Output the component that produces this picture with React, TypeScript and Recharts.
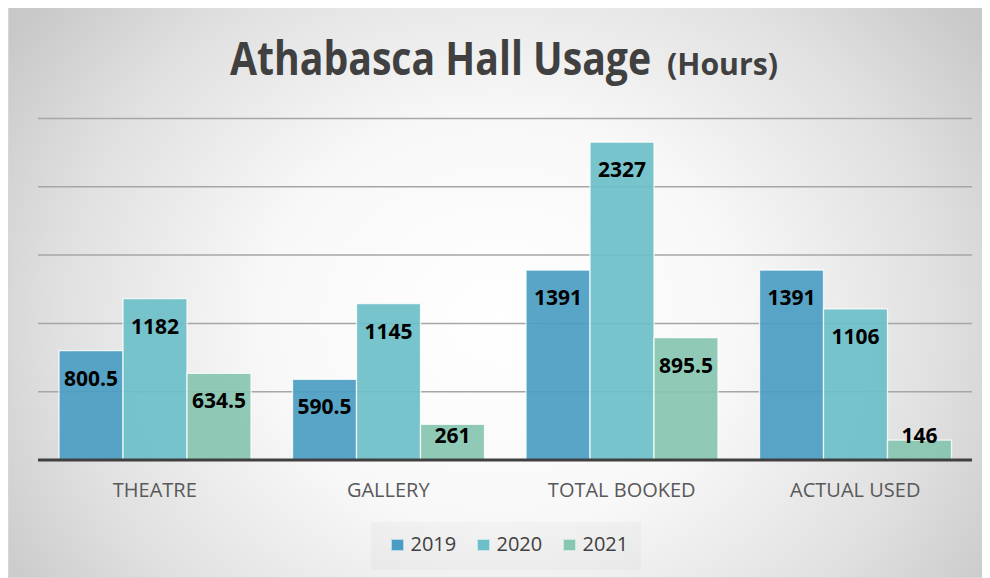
import React, { useLayoutEffect, useRef, useState } from 'react';
import { BarChart, Bar, XAxis, YAxis, CartesianGrid, LabelList } from 'recharts';

const categories = ['THEATRE', 'GALLERY', 'TOTAL BOOKED', 'ACTUAL USED'];
const values2019 = [800.5, 590.5, 1391, 1391];
const values2020 = [1182, 1145, 2327, 1106];
const values2021 = [634.5, 261, 895.5, 146];
const seriesNames = ['2019', '2020', '2021'];
const seriesColors = ['#4A9DC2', '#6CBFC8', '#87C6B1'];
const yTicks = [0, 500, 1000, 1500, 2000, 2500];
const titleMain = 'Athabasca Hall Usage';
const titleUnit = '(Hours)';

const data = categories.map((c, i) => ({
  name: c,
  s2019: values2019[i],
  s2020: values2020[i],
  s2021: values2021[i],
}));
const keys = ['s2019', 's2020', 's2021'];

const FONT = '"Open Sans", "DejaVu Sans", sans-serif';

const ValueLabel = (props: any) => {
  const { x, y, width, height, value } = props;
  const cx = Number(x) + Number(width) / 2;
  const cy = Math.min(Number(y) + 27, Number(y) + Number(height) - 25);
  return (
    <text
      x={cx}
      y={cy}
      textAnchor="middle"
      dominantBaseline="central"
      fontFamily={FONT}
      fontWeight={700}
      fontSize={21}
      fill="#000000"
    >
      {value}
    </text>
  );
};

export default function App() {
  const mainRef = useRef<SVGTextElement>(null);
  const unitRef = useRef<SVGTextElement>(null);
  const [sMain, setSMain] = useState(0.85);
  const [sUnit, setSUnit] = useState(0.85);

  useLayoutEffect(() => {
    if (mainRef.current) {
      const w = mainRef.current.getComputedTextLength();
      if (w > 0) setSMain(421 / w);
    }
    if (unitRef.current) {
      const w = unitRef.current.getComputedTextLength();
      if (w > 0) setSUnit(111 / w);
    }
  }, []);

  return (
    <div
      style={{
        position: 'relative',
        width: 982,
        height: 571,
        marginTop: -1,
        border: '1px solid #D6D6D6',
        boxSizing: 'border-box',
        background:
          'radial-gradient(ellipse 60% 90% at 50% 55%, #FFFFFF 0%, #F8F8F8 40%, #E0E0E0 75%, #C8C8C8 100%)',
        fontFamily: FONT,
        overflow: 'hidden',
      }}
    >
      <svg
        width={982}
        height={110}
        style={{ position: 'absolute', left: -1, top: -1 }}
      >
        <text
          ref={mainRef}
          x={0}
          y={0}
          transform={`translate(222,68) scale(${sMain},1)`}
          fontFamily={FONT}
          fontWeight={700}
          fontSize={46}
          fill="#404040"
        >
          {titleMain}
        </text>
        <text
          ref={unitRef}
          x={0}
          y={0}
          transform={`translate(659,68) scale(${sUnit},1)`}
          fontFamily={FONT}
          fontWeight={700}
          fontSize={30}
          fill="#404040"
        >
          {titleUnit}
        </text>
      </svg>
      <div style={{ position: 'absolute', left: -1, top: -1 }}>
        <BarChart
          width={982}
          height={571}
          data={data}
          margin={{ top: 111.5, right: 18, left: 30, bottom: 58 }}
          barCategoryGap="9%"
          barGap={0}
        >
          <CartesianGrid
            vertical={false}
            stroke="#A6A6A6"
            strokeWidth={1.5}
          />
          <YAxis hide domain={[0, 2500]} ticks={yTicks} />
          <XAxis
            dataKey="name"
            height={60}
            axisLine={{ stroke: '#404040', strokeWidth: 3 }}
            tickLine={false}
            tickMargin={17}
            tick={{ fill: '#595959', fontSize: 20, fontFamily: FONT }}
            interval={0}
          />
          {keys.map((k, i) => (
            <Bar
              key={k}
              dataKey={k}
              name={seriesNames[i]}
              fill={seriesColors[i]}
              fillOpacity={0.92}
              stroke="#FFFFFF"
              strokeWidth={1.3}
              strokeOpacity={0.8}
              isAnimationActive={false}
            >
              <LabelList dataKey={k} content={ValueLabel} />
            </Bar>
          ))}
        </BarChart>
      </div>
      <div
        style={{
          position: 'absolute',
          left: 362,
          top: 514,
          width: 270,
          height: 48,
          background: 'rgba(0,0,0,0.025)',
        }}
      >
        {seriesNames.map((n, i) => (
          <div
            key={n}
            style={{
              position: 'absolute',
              left: 20 + i * 86,
              top: 0,
              height: 44,
              display: 'flex',
              alignItems: 'center',
            }}
          >
            <div
              style={{
                width: 12.5,
                height: 12.5,
                background: seriesColors[i],
                border: '1px solid rgba(255,255,255,0.6)',
                boxSizing: 'border-box',
                marginRight: 7,
                marginTop: 2,
              }}
            />
            <span style={{ fontSize: 20, color: '#404040', lineHeight: '20px' }}>{n}</span>
          </div>
        ))}
      </div>
    </div>
  );
}
